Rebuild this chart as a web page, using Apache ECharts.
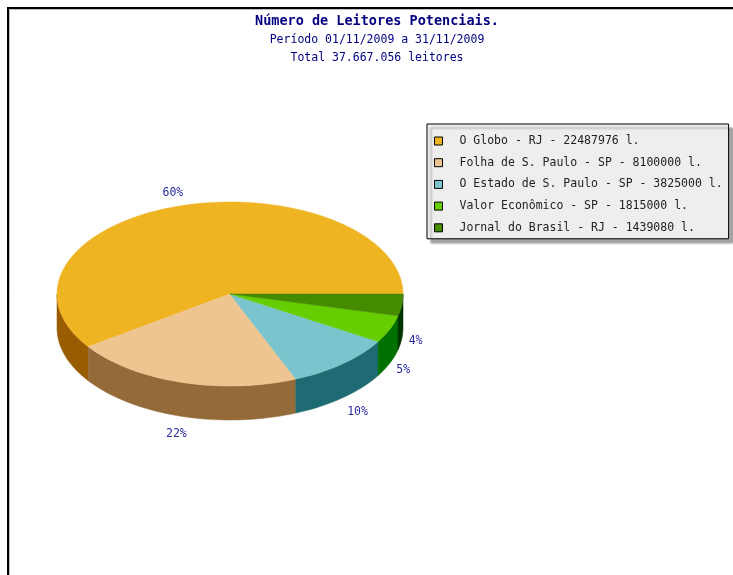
<!DOCTYPE html>
<html>
<head>
<meta charset="utf-8">
<script src="https://cdn.jsdelivr.net/npm/echarts@6/dist/echarts.min.js"></script>
<style>
  html, body { margin: 0; padding: 0; background: #fff; }
  #chart { width: 733px; height: 575px; }
</style>
</head>
<body>
<div id="chart"></div>
<script>
// newspapers and their potential readers
var names = ['O Globo - RJ', 'Folha de S. Paulo - SP', 'O Estado de S. Paulo - SP', 'Valor Econômico - SP', 'Jornal do Brasil - RJ'];
var readers = [22487976, 8100000, 3825000, 1815000, 1439080];
var topColors = ['#eeb422', '#eec591', '#7ac5cd', '#66cd00', '#458b00'];
var sideColors = ['#9a5c00', '#946b38', '#1f6b73', '#007000', '#003300'];

// pie geometry (3d ellipse)
var cx = 230, cy = 294, rx = 173, ry = 92, depth = 34;

var total = readers.reduce(function (a, b) { return a + b; }, 0);
var startAngles = [];
var acc = 0;
for (var i = 0; i < readers.length; i++) {
  startAngles.push(acc / total * 360);
  acc += readers[i];
}

function pt(a, dy) {
  var r = a * Math.PI / 180;
  return [cx + rx * Math.cos(r), cy - ry * Math.sin(r) + (dy || 0)];
}

function arc(a1, a2, dy) {
  var pts = [];
  var n = Math.max(2, Math.ceil((a2 - a1) / 2));
  for (var k = 0; k <= n; k++) pts.push(pt(a1 + (a2 - a1) * k / n, dy));
  return pts;
}

function renderSide(params, api) {
  var i = params.dataIndex;
  var a1 = startAngles[i];
  var a2 = a1 + api.value(0) / total * 360;
  var lo = Math.max(a1, 180), hi = Math.min(a2, 360);
  if (hi <= lo) return { type: 'group', children: [] };
  var pts = arc(lo, hi, 0).concat(arc(lo, hi, depth).reverse());
  return {
    type: 'polygon',
    shape: { points: pts },
    style: { fill: sideColors[i], stroke: sideColors[i], lineWidth: 0.5 }
  };
}

function renderTop(params, api) {
  var i = params.dataIndex;
  var v = api.value(0);
  var a1 = startAngles[i];
  var a2 = a1 + v / total * 360;
  var pts = [[cx, cy]].concat(arc(a1, a2, 0));
  var m = (a1 + a2) / 2 * Math.PI / 180;
  var c = Math.cos(m), s = Math.sin(m);
  var align = c > 0.5 ? 'left' : (c < -0.5 ? 'right' : 'center');
  var f = align === 'center' ? 1.1 : 1.04;
  var lx = cx + rx * f * c;
  var ly = s < 0 ? cy - ry * 1.2 * s + depth : cy - ry * 1.15 * s;
  return {
    type: 'group',
    children: [{
      type: 'polygon',
      shape: { points: pts },
      style: { fill: topColors[i], stroke: topColors[i], lineWidth: 0.5 }
    }, {
      type: 'text',
      style: {
        x: lx, y: ly,
        text: Math.round(v / total * 100) + '%',
        align: align,
        verticalAlign: 'middle',
        fill: '#2b2ba0',
        font: '11.5px "DejaVu Sans Mono"'
      }
    }]
  };
}

var chart = echarts.init(document.getElementById('chart'));

var titleFont = { fontFamily: 'DejaVu Sans Mono', color: '#000080' };

chart.setOption({
  animation: false,
  title: [{
    text: 'Número de Leitores Potenciais.',
    left: 377, top: 14, textAlign: 'center', padding: 0,
    textStyle: Object.assign({ fontSize: 13.5, fontWeight: 'bold' }, titleFont)
  }, {
    text: 'Período 01/11/2009 a 31/11/2009',
    left: 377, top: 34, textAlign: 'center', padding: 0,
    textStyle: Object.assign({ fontSize: 11.5, fontWeight: 'normal' }, titleFont)
  }, {
    text: 'Total 37.667.056 leitores',
    left: 377, top: 52, textAlign: 'center', padding: 0,
    textStyle: Object.assign({ fontSize: 11.5, fontWeight: 'normal' }, titleFont)
  }],
  legend: {
    orient: 'vertical',
    left: 427, top: 124,
    padding: [11, 6, 5, 7],
    itemGap: 9.7,
    itemWidth: 8, itemHeight: 8,
    icon: 'rect',
    data: names,
    backgroundColor: '#eeeeee',
    borderColor: '#000',
    borderWidth: 1,
    borderRadius: 0,
    shadowColor: 'rgba(0,0,0,0.35)',
    shadowBlur: 2,
    shadowOffsetX: 4,
    shadowOffsetY: 4,
    itemStyle: { borderColor: '#000', borderWidth: 1 },
    selectedMode: false,
    formatter: function (name) {
      return name + ' - ' + readers[names.indexOf(name)] + ' l.';
    },
    textStyle: {
      fontFamily: 'DejaVu Sans Mono',
      fontSize: 11.5,
      lineHeight: 12,
      color: '#222',
      padding: [0, 0, 0, 12]
    }
  },
  graphic: [{
    type: 'rect',
    shape: { x: 8, y: 8, width: 800, height: 700 },
    style: { fill: 'none', stroke: '#000', lineWidth: 2 },
    silent: true
  }, {
    type: 'rect',
    shape: { x: 9.5, y: 9.5, width: 800, height: 700 },
    style: { fill: 'none', stroke: '#c0c0c0', lineWidth: 1 },
    silent: true
  }],
  series: [{
    // only used to feed the legend
    type: 'pie',
    center: [-50, -50],
    radius: [0, 1],
    silent: true,
    label: { show: false },
    labelLine: { show: false },
    data: names.map(function (n, i) {
      return { name: n, value: readers[i], itemStyle: { color: topColors[i] } };
    })
  }, {
    type: 'custom',
    coordinateSystem: 'none',
    z: 2,
    silent: true,
    renderItem: renderSide,
    data: readers
  }, {
    type: 'custom',
    coordinateSystem: 'none',
    z: 3,
    silent: true,
    renderItem: renderTop,
    data: readers
  }]
});
</script>
</body>
</html>
